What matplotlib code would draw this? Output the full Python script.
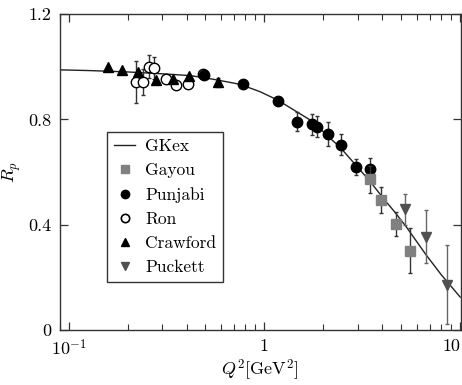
import matplotlib
matplotlib.use("Agg")
import matplotlib.pyplot as plt
from matplotlib.lines import Line2D

plt.rcParams['font.family'] = 'serif'
plt.rcParams['font.serif'] = ['cmr10', 'DejaVu Serif']
plt.rcParams['mathtext.fontset'] = 'cm'
plt.rcParams['axes.unicode_minus'] = False
plt.rcParams['axes.formatter.use_mathtext'] = True

# GKex curve
gk_x = [0.09, 0.13, 0.2, 0.3, 0.42, 0.55, 0.67, 0.75, 0.95, 1.17, 1.46, 1.77,
        2.15, 2.42, 2.94, 3.5, 4.11, 4.62, 5.3, 6.7, 8.0, 10.0]
gk_y = [0.988, 0.985, 0.980, 0.973, 0.966, 0.952, 0.940, 0.933, 0.905, 0.873,
        0.829, 0.791, 0.730, 0.696, 0.625, 0.560, 0.494, 0.449, 0.392, 0.285,
        0.210, 0.125]

# Gayou
gay_x = [3.47, 3.96, 4.71, 5.56]
gay_y = [0.572, 0.494, 0.403, 0.301]
gay_e = [0.05, 0.05, 0.045, 0.086]

# Punjabi
pun_x = [0.49, 0.778, 1.173, 1.466, 1.757, 1.863, 2.11, 2.47, 2.94, 3.47]
pun_y = [0.968, 0.934, 0.871, 0.790, 0.782, 0.772, 0.743, 0.703, 0.620, 0.610]
pun_e = [0.0, 0.0, 0.0, 0.036, 0.04, 0.04, 0.045, 0.04, 0.03, 0.044]

# Ron
ron_x = [0.222, 0.240, 0.258, 0.273, 0.313, 0.352, 0.407, 0.486]
ron_y = [0.941, 0.941, 1.000, 0.994, 0.952, 0.930, 0.933, 0.971]
ron_e = [0.079, 0.05, 0.044, 0.042, 0.0, 0.0, 0.0, 0.0]

# Crawford
cra_x = [0.159, 0.188, 0.226, 0.278, 0.340, 0.412, 0.58]
cra_y = [1.000, 0.987, 0.979, 0.949, 0.952, 0.965, 0.940]
cra_e = [0.0, 0.0, 0.0, 0.0, 0.0, 0.0, 0.016]

# Puckett
puc_x = [5.2, 6.7, 8.54]
puc_y = [0.458, 0.354, 0.171]
puc_e = [0.06, 0.10, 0.15]

legend_labels = ['GKex', 'Gayou', 'Punjabi', 'Ron', 'Crawford', 'Puckett']

fig = plt.figure(figsize=(4.62, 3.85), dpi=100)
ax = fig.add_axes([0.1288, 0.1429, 0.8682, 0.8207])

ax.plot(gk_x, gk_y, color='#222222', lw=1.0, zorder=2)

eb = dict(capsize=1.5, elinewidth=1.0, capthick=1.0, linestyle='none')
ax.errorbar(ron_x, ron_y, yerr=ron_e, fmt='o', ms=7.5, mfc='white', mec='black',
            mew=1.0, ecolor='#333333', zorder=3, **eb)
ax.errorbar(cra_x, cra_y, yerr=cra_e, fmt='^', ms=6.5, color='black',
            ecolor='#333333', zorder=4, **eb)
ax.errorbar(pun_x, pun_y, yerr=pun_e, fmt='o', ms=7.5, color='black',
            ecolor='#333333', zorder=4, **eb)
ax.errorbar(gay_x, gay_y, yerr=gay_e, fmt='s', ms=6.5, color='#808080',
            ecolor='#333333', zorder=5, **eb)
ax.errorbar(puc_x, puc_y, yerr=puc_e, fmt='v', ms=7, color='#505050',
            ecolor='#666666', zorder=5, **eb)

ax.set_xscale('log')
ax.set_xlim(0.0898, 10.05)
ax.set_ylim(0, 1.2)
ax.set_yticks([0, 0.4, 0.8, 1.2])
ax.set_yticklabels(['0', '0.4', '0.8', '1.2'])
ax.set_xticks([0.1, 1, 10])
ax.set_xticklabels(['$10^{-1}$', '1', '10'])
ax.tick_params(which='both', direction='in', top=True, right=True, labelsize=13,
               color='#333333')
ax.tick_params(which='major', length=6, width=0.9, pad=6)
ax.tick_params(which='minor', length=4, width=0.8)
ax.get_xticklabels()[2].set_horizontalalignment('right')
for s in ax.spines.values():
    s.set_linewidth(1.0)
    s.set_color('#333333')

ax.set_xlabel(r'$Q^2$[GeV$^2$]', fontsize=13, labelpad=-1)
ax.set_ylabel(r'$R_p$', fontsize=13)
ax.yaxis.set_label_coords(-0.09, 0.5)

handles = [
    Line2D([], [], color='#222222', lw=1.0),
    Line2D([], [], ls='none', marker='s', ms=5.5, color='#808080'),
    Line2D([], [], ls='none', marker='o', ms=6, color='black'),
    Line2D([], [], ls='none', marker='o', ms=6, mfc='white', mec='black', mew=1.2),
    Line2D([], [], ls='none', marker='^', ms=6, color='black'),
    Line2D([], [], ls='none', marker='v', ms=6, color='#505050'),
]
leg = ax.legend(handles, legend_labels, loc='upper left',
                bbox_to_anchor=(0.119, 0.626), fontsize=12.5, frameon=True,
                fancybox=False, edgecolor='#333333', framealpha=1,
                handlelength=1.2, handletextpad=0.6, labelspacing=0.5,
                borderpad=0.4, borderaxespad=0)
leg.get_frame().set_linewidth(1.0)

fig.savefig('out.png', dpi=100)
